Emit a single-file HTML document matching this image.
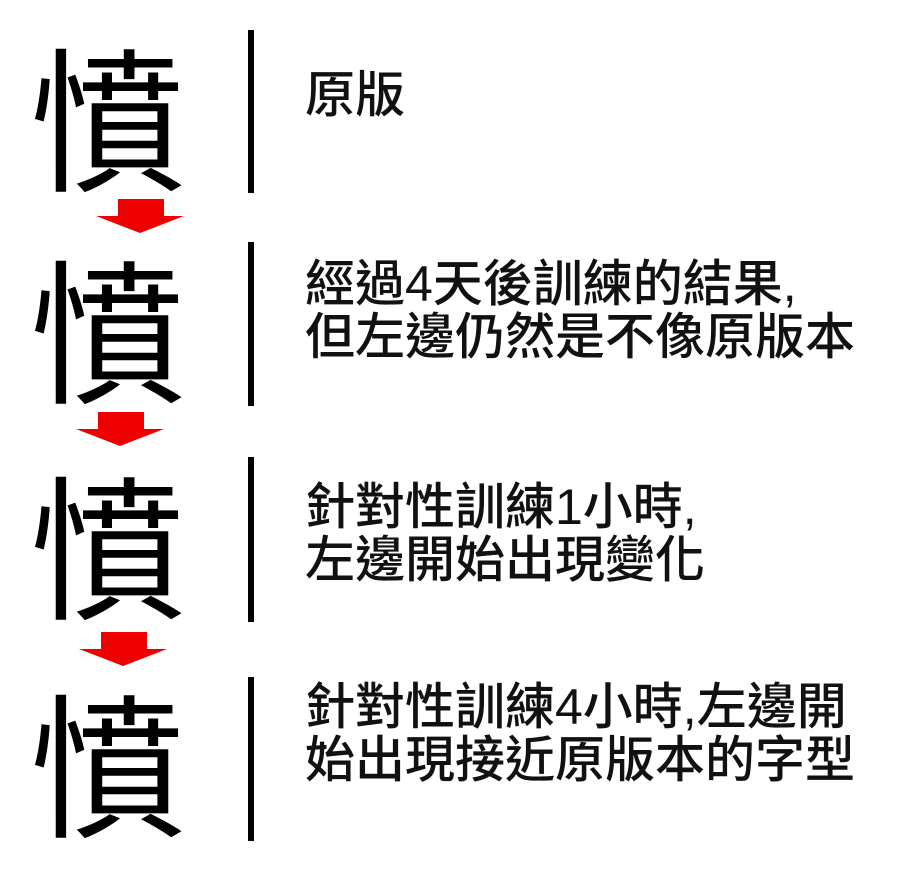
<!DOCTYPE html>
<html><head><meta charset="utf-8"><style>
body{margin:0;width:900px;height:888px;background:#fff;position:relative;overflow:hidden;font-family:"Liberation Sans","Noto Sans CJK TC",sans-serif}
.g{position:absolute;left:30px;font-size:155px;line-height:160px;font-family:"Noto Sans CJK TC",sans-serif;color:#000}
.bar{position:absolute;left:248px;width:6px;background:#000}
.t{position:absolute;left:305px;font-size:50px;line-height:53px;color:#111;white-space:nowrap;font-weight:500;font-family:"Liberation Sans","Noto Sans CJK TC",sans-serif}
.arr{position:absolute;width:88px;height:34px}
</style></head><body>
<div class="g" style="top:32px">憤</div>
<div class="g" style="top:244px">憤</div>
<div class="g" style="top:460px">憤</div>
<div class="g" style="top:678px">憤</div>
<div class="bar" style="top:30px;height:163px"></div>
<div class="bar" style="top:242px;height:164px"></div>
<div class="bar" style="top:457px;height:165px"></div>
<div class="bar" style="top:677px;height:164px"></div>
<div class="t" style="top:69px">原版</div>
<div class="t" style="top:258px">經過4天後訓練的結果,<br>但左邊仍然是不像原版本</div>
<div class="t" style="top:481px">針對性訓練1小時,<br>左邊開始出現變化</div>
<div class="t" style="top:681px">針對性訓練4小時,左邊開<br>始出現接近原版本的字型</div>
<svg class="arr" style="left:96px;top:199px" viewBox="0 0 88 34"><polygon points="22,0 68,0 68,17 88,17 44,34 0,17 22,17" fill="#e00"/></svg>
<svg class="arr" style="left:76px;top:412px" viewBox="0 0 88 34"><polygon points="22,0 68,0 68,17 88,17 44,34 0,17 22,17" fill="#e00"/></svg>
<svg class="arr" style="left:79px;top:632px" viewBox="0 0 88 34"><polygon points="22,0 68,0 68,17 88,17 44,34 0,17 22,17" fill="#e00"/></svg>
</body></html>
